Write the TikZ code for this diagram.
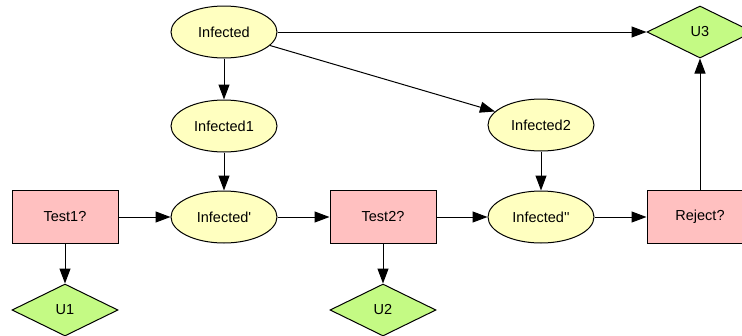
\documentclass[tikz,border=0pt]{standalone}
\usepackage{fontspec}
\setmainfont{Liberation Sans}
\usetikzlibrary{shapes.geometric,arrows.meta}
\definecolor{chancefill}{HTML}{FFFFC0}
\definecolor{decisionfill}{HTML}{FFC0C0}
\definecolor{utilityfill}{HTML}{C4FA84}
\tikzset{
  x=1pt, y=1pt,
  chance/.style={ellipse, draw=black, line width=1pt, fill=chancefill,
    minimum width=106pt, minimum height=52pt, inner sep=0pt},
  decision/.style={rectangle, draw=black, line width=1pt, fill=decisionfill,
    minimum width=106pt, minimum height=53pt, inner sep=0pt},
  utility/.style={diamond, aspect=2, draw=black, line width=1pt, fill=utilityfill,
    minimum width=106pt, minimum height=52pt, inner sep=0pt},
  link/.style={draw=black, line width=1pt, -{Triangle[length=15pt, width=11pt]}},
  every node/.append style={font=\fontsize{14.5}{17}\selectfont}
}
\begin{document}
\begin{tikzpicture}
\useasboundingbox (0,0) rectangle (742,-335);
\clip (0,0) rectangle (742,-335);

% chance nodes
\node[chance] (inf)   at (224,-32)  {Infected};
\node[chance] (inf1)  at (224,-126) {Infected1};
\node[chance] (inf2)  at (541,-125) {Infected2};
\node[chance] (infp)  at (224,-217) {Infected\textquotesingle};
\node[chance] (infpp) at (541,-217) {Infected\textquotesingle\textquotesingle};

% decision nodes
\node[decision] (t1)  at (65,-217)  {Test1?};
\node[decision] (t2)  at (383,-217) {Test2?};
\node[decision] (rej) at (700,-217) {Reject?};

% utility nodes
\node[utility] (u1) at (65,-310)  {U1};
\node[utility] (u2) at (383,-310) {U2};
\node[utility] (u3) at (700,-32)  {U3};

% links
\draw[link] (inf) -- (inf1);
\draw[link] (inf) -- (inf2);
\draw[link] (inf) -- (u3);
\draw[link] (inf1) -- (infp);
\draw[link] (inf2) -- (infpp);
\draw[link] (t1) -- (infp);
\draw[link] (t1) -- (u1);
\draw[link] (infp) -- (t2);
\draw[link] (t2) -- (u2);
\draw[link] (t2) -- (infpp);
\draw[link] (infpp) -- (rej);
\draw[link] (rej) -- (u3);
\end{tikzpicture}
\end{document}
